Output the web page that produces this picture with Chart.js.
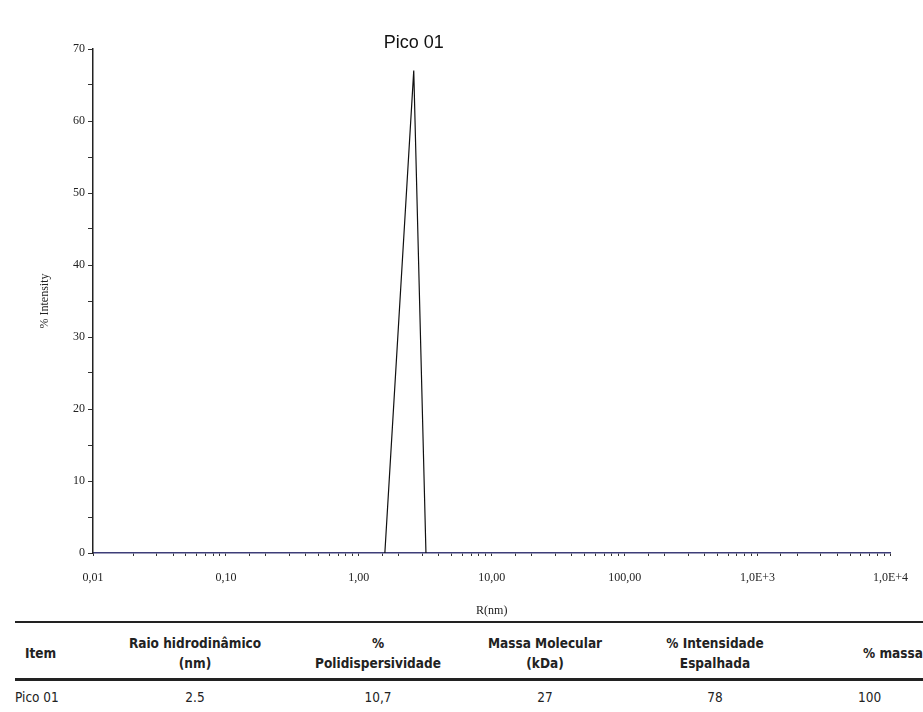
<!DOCTYPE html>
<html>
<head>
<meta charset="utf-8">
<script src="https://cdn.jsdelivr.net/npm/chart.js@4/dist/chart.umd.min.js"></script>
<style>
  html, body { margin: 0; padding: 0; background: #fff; }
  body { width: 923px; height: 712px; overflow: hidden; position: relative; }
  #chart-wrap { position: absolute; left: 0; top: 0; width: 923px; height: 618px; }
  table {
    position: absolute; left: 15px; top: 621px; width: 965px;
    border-collapse: collapse; table-layout: fixed;
    font-family: "DejaVu Sans Condensed", Lato, sans-serif;
    font-size: 13.5px; color: #222; white-space: nowrap;
  }
  thead tr { border-top: 2px solid #222; border-bottom: 3px solid #222; }
  th { font-weight: bold; line-height: 20px; padding: 10px 0 5px; text-align: center; }
  td { text-align: center; padding: 8px 0 0; line-height: 16px; }
  th.first { text-align: left; padding-left: 10px; }
  td.first { text-align: left; }
</style>
</head>
<body>
<div id="chart-wrap"><canvas id="dls-chart" width="923" height="618"></canvas></div>
<table>
  <colgroup>
    <col style="width:85px"><col style="width:190px"><col style="width:176px">
    <col style="width:158px"><col style="width:182px"><col style="width:174px">
  </colgroup>
  <thead>
    <tr>
      <th class="first">Item</th>
      <th>Raio hidrodinâmico<br>(nm)</th>
      <th>%<br>Polidispersividade</th>
      <th>Massa Molecular<br>(kDa)</th>
      <th>% Intensidade<br>Espalhada</th>
      <th>% massa</th>
    </tr>
  </thead>
  <tbody>
    <tr>
      <td class="first">Pico 01</td>
      <td>2.5</td>
      <td>10,7</td>
      <td>27</td>
      <td>78</td>
      <td style="text-align:left;padding-left:52px">100</td>
    </tr>
  </tbody>
</table>
<script>
// peak (R in nm, % intensity)
const peakRadius = [1.57, 2.59, 3.2];
const peakIntensity = [0, 67, 0];
const peakLabel = "Pico 01";

const majorTicks = [0.01, 0.1, 1, 10, 100, 1000, 10000];
const majorLabels = ["0,01", "0,10", "1,00", "10,00", "100,00", "1,0E+3", "1,0E+4"];

const serif = "'Liberation Serif', 'DejaVu Serif', serif";

const peakLabelPlugin = {
  id: "peakLabel",
  afterDatasetsDraw(chart) {
    const ctx = chart.ctx;
    const x = chart.scales.x.getPixelForValue(peakRadius[1]);
    ctx.save();
    ctx.font = "18px 'Liberation Sans', Arial, sans-serif";
    ctx.fillStyle = "#111";
    ctx.textAlign = "center";
    ctx.textBaseline = "middle";
    ctx.fillText(peakLabel, x, 43);
    ctx.restore();
  },
};

new Chart(document.getElementById("dls-chart").getContext("2d"), {
  type: "line",
  data: {
    datasets: [
      {
        label: peakLabel,
        data: peakRadius.map((r, i) => ({ x: r, y: peakIntensity[i] })),
        borderColor: "#111",
        borderWidth: 1.2,
        pointRadius: 0,
        tension: 0,
        fill: false,
      },
    ],
  },
  options: {
    responsive: false,
    animation: false,
    layout: { padding: { top: 49, right: 24, left: 38, bottom: 0 } },
    plugins: {
      legend: { display: false },
      tooltip: { enabled: false },
    },
    scales: {
      x: {
        type: "logarithmic",
        min: 0.01,
        max: 10000,
        afterFit(scale) { scale.height = 65; },
        border: { color: "#3d3d78", width: 1.5 },
        grid: { drawOnChartArea: false, drawTicks: true, tickLength: 3, color: "#333" },
        ticks: {
          autoSkip: false,
          maxRotation: 0,
          padding: 15,
          color: "#222",
          font: { family: serif, size: 12 },
          callback(value) {
            const i = majorTicks.findIndex((t) => Math.abs(t - value) / t < 1e-6);
            return i >= 0 ? majorLabels[i] : "";
          },
        },
        title: {
          display: true,
          text: "R(nm)",
          color: "#222",
          font: { family: serif, size: 12 },
          padding: { top: 6, bottom: 0 },
        },
      },
      y: {
        min: 0,
        max: 70,
        afterFit(scale) { scale.width = 55; },
        border: { color: "#222", width: 1.5 },
        grid: { drawOnChartArea: false, drawTicks: true, tickLength: 5, color: "#333" },
        ticks: {
          stepSize: 5,
          autoSkip: false,
          padding: 3,
          color: "#222",
          font: { family: serif, size: 12 },
          callback(value) { return value % 10 === 0 ? value : ""; },
        },
        title: {
          display: true,
          text: "% Intensity",
          color: "#222",
          font: { family: serif, size: 12 },
          padding: { top: 0, bottom: 0 },
        },
      },
    },
  },
  plugins: [peakLabelPlugin],
});
</script>
</body>
</html>
